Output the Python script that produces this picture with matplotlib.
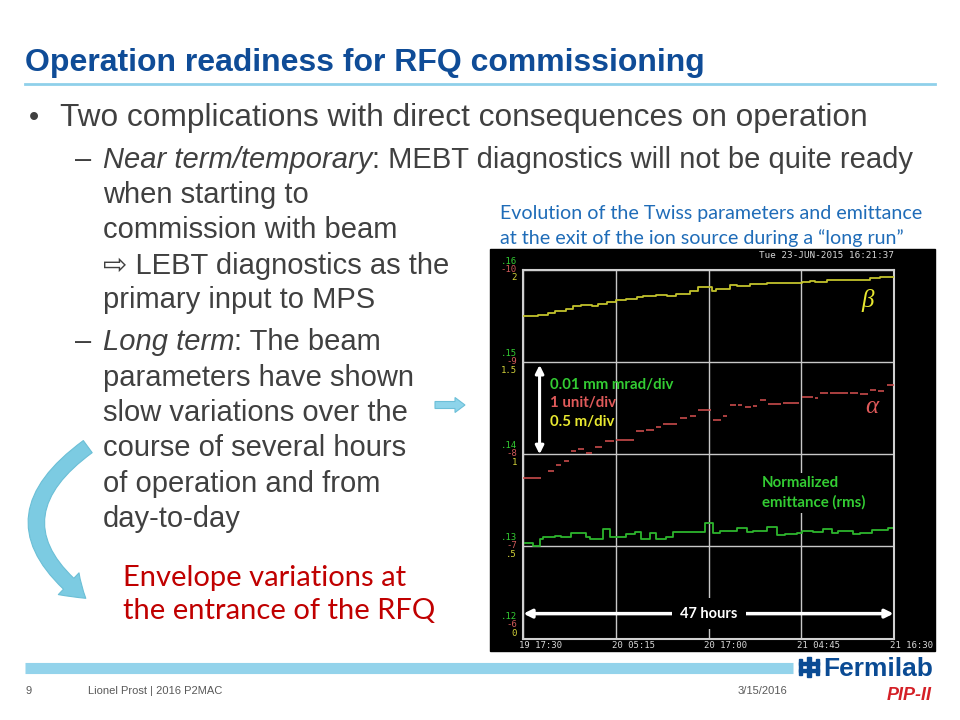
import matplotlib
matplotlib.use("Agg")
import matplotlib.pyplot as plt
from matplotlib.patches import Rectangle, FancyArrowPatch, FancyArrow

# time axis: hours after 19-Jun 17:30 (47 hours shown)
time_ticks = [0, 11.75, 23.5, 35.25, 47]
time_labels = ["19 17:30", "20 05:15", "20 17:00", "21 04:45", "21 16:30"]

# three stacked scales on the scope display
emit_ticks = [0.12, 0.13, 0.14, 0.15, 0.16]
emit_labels = [".12", ".13", ".14", ".15", ".16"]
alpha_ticks = [-6, -7, -8, -9, -10]
alpha_labels = ["-6", "-7", "-8", "-9", "-10"]
beta_ticks = [0, 0.5, 1, 1.5, 2]
beta_labels = ["0", ".5", "1", "1.5", "2"]

# beta (m), step trace
beta_t = [0, 1.9, 3.17, 4.0, 5.5, 6.3, 7.4, 8.7, 9.5, 10.6, 11.8, 13.1, 14.4, 15.2,
          16.9, 18.2, 19.4, 21.1, 22.2, 23.9, 24.5, 26.2, 27.1, 28.7, 30.9, 33.0,
          35.3, 36.3, 37.0, 38.5, 39.7, 41.8, 44.0, 45.2]
beta_v = [1.748, 1.757, 1.764, 1.775, 1.788, 1.803, 1.812, 1.806, 1.817, 1.826,
          1.835, 1.844, 1.851, 1.860, 1.866, 1.857, 1.871, 1.884, 1.906, 1.888,
          1.899, 1.917, 1.911, 1.924, 1.929, 1.931, 1.935, 1.938, 1.935, 1.944,
          1.947, 1.946, 1.957, 1.960]

# alpha, drawn as short dashes
alpha_t = [0, 3.17, 4.23, 5.16, 6.13, 6.97, 8.03, 9.09, 10.36, 11.83, 14.37, 15.64,
           16.9, 17.75, 19.87, 21.13, 22.19, 24.09, 25.36, 26.2, 27.26, 28.1, 29.16,
           30.0, 31.07, 32.97, 35.29, 36.98, 37.62, 38.88, 41.42, 42.69, 43.96,
           45.01, 46.07]
alpha_v = [-7.74, -7.82, -7.88, -7.93, -8.03, -8.06, -8.01, -8.08, -8.14, -8.16,
           -8.25, -8.26, -8.30, -8.33, -8.39, -8.42, -8.48, -8.37, -8.41, -8.53,
           -8.54, -8.51, -8.52, -8.59, -8.55, -8.56, -8.62, -8.61, -8.67, -8.67,
           -8.66, -8.65, -8.70, -8.69, -8.75]

# normalized rms emittance (mm mrad), step trace
emit_t = [0, 1.27, 2.11, 2.54, 4.02, 4.86, 6.13, 8.03, 8.45, 10.14, 11.07, 13.10,
          14.16, 15.0, 16.06, 16.91, 18.17, 19.02, 20.29, 23.03, 24.01, 24.94, 27.05,
          28.32, 29.16, 30.85, 32.12, 33.18, 34.66, 35.29, 36.77, 38.04, 39.10,
          39.94, 41.84, 42.69, 44.17, 46.28]
emit_v = [0.1304, 0.1300, 0.1308, 0.1310, 0.1311, 0.1310, 0.1315, 0.1310, 0.1308,
          0.1319, 0.1310, 0.1313, 0.1316, 0.1308, 0.1314, 0.1308, 0.1310, 0.1316,
          0.1316, 0.1325, 0.1314, 0.1317, 0.1320, 0.1316, 0.1317, 0.1321, 0.1312,
          0.1313, 0.1315, 0.1317, 0.1316, 0.1319, 0.1314, 0.1317, 0.1313, 0.1315,
          0.1318, 0.1320]

SANS = ["Liberation Sans", "DejaVu Sans"]
GRAY = "#404040"
BLUE = "#0f4c97"
SUB = 21

fig = plt.figure(figsize=(9.6, 7.2), dpi=100)

# slide layer in pixel coordinates
bg = fig.add_axes([0, 0, 1, 1])
bg.set_xlim(0, 960)
bg.set_ylim(720, 0)
bg.axis("off")

bg.text(25, 71, "Operation readiness for RFQ commissioning", family=SANS,
        fontsize=23, weight="bold", color=BLUE, va="baseline")
bg.plot([25, 935], [84, 84], color="#8fd0ea", lw=2)

bg.text(29, 126, "\u2022", family=SANS, fontsize=21, color=GRAY, va="baseline")
bg.text(60, 126, "Two complications with direct consequences on operation",
        family=SANS, fontsize=22.8, color=GRAY, va="baseline")


def sub_line(y, text, italic=None, dash=False):
    if dash:
        bg.text(75, y, "\u2013", family=SANS, fontsize=SUB, color=GRAY, va="baseline")
    if italic:
        t = bg.text(103, y, italic, family=SANS, fontsize=SUB, style="italic",
                    color=GRAY, va="baseline")
        bg.annotate(text, xy=(1, 0), xycoords=t, va="bottom", ha="left",
                    family=SANS, fontsize=SUB, color=GRAY)
    else:
        bg.text(103, y, text, family=SANS, fontsize=SUB, color=GRAY, va="baseline")


sub_line(168, ": MEBT diagnostics will not be quite ready", "Near term/temporary", True)
sub_line(203, "when starting to")
sub_line(238, "commission with beam")
sub_line(274, "\u21e8 LEBT diagnostics as the")
sub_line(308, "primary input to MPS")
sub_line(350, ": The beam", "Long term", True)
sub_line(386, "parameters have shown")
sub_line(421, "slow variations over the")
sub_line(456, "course of several hours")
sub_line(492, "of operation and from")
sub_line(527, "day-to-day")

bg.text(123, 586, "Envelope variations at", family="Lato", fontsize=21,
        color="#c00000", va="baseline")
bg.text(123, 619, "the entrance of the RFQ", family="Lato", fontsize=21,
        color="#c00000", va="baseline")

bg.text(500, 219, "Evolution of the Twiss parameters and emittance", family="Lato",
        fontsize=14.1, color="#1f6cb8", va="baseline")
bg.text(500, 244, "at the exit of the ion source during a \u201clong run\u201d",
        family="Lato", fontsize=14.1, color="#1f6cb8", va="baseline")

# arrows on the slide
bg.add_patch(FancyArrow(435, 405, 30, 0, width=7, head_width=15, head_length=10,
                        length_includes_head=True, fc="#8dd4ea", ec="#6cbfd8", lw=0.8))
bg.add_patch(FancyArrowPatch((90, 445), (88, 600), connectionstyle="arc3,rad=0.68",
                             arrowstyle="simple,head_width=2.4,head_length=1.8,tail_width=1.2",
                             mutation_scale=9, fc="#7ccbe2", ec="#6bbfd6", lw=0.8))

# black scope panel
bg.add_patch(Rectangle((490, 249), 445, 402, color="black", zorder=0))

# footer
bg.plot([25, 793], [668, 668], color="#93d3eb", lw=8, solid_capstyle="butt")
bg.text(25, 694, "9", family=SANS, fontsize=8, color="#595959", va="baseline")
bg.text(88, 694, "Lionel Prost | 2016 P2MAC", family=SANS, fontsize=8,
        color="#595959", va="baseline")
bg.text(787, 694, "3/15/2016", family=SANS, fontsize=8, color="#595959",
        va="baseline", ha="right")

# Fermilab logo (approximate)
bg.add_patch(Rectangle((807, 657), 4, 20, color="#0a4b94"))
bg.add_patch(Rectangle((799, 662), 20, 3, color="#0a4b94"))
bg.add_patch(Rectangle((799, 669), 20, 3, color="#0a4b94"))
bg.add_patch(Rectangle((799, 659), 3, 16, color="#0a4b94"))
bg.add_patch(Rectangle((816, 659), 3, 16, color="#0a4b94"))
bg.text(823, 676, "Fermilab", family=SANS, fontsize=19, weight="bold",
        color="#0a4b94", va="baseline")
bg.text(887, 700, "PIP-II", family=SANS, fontsize=13, weight="bold",
        style="italic", color="#d42027", va="baseline")

# scope chart
L, R, T, B = 523, 894, 270, 638.5
ax = fig.add_axes([L / 960, (720 - B) / 720, (R - L) / 960, (B - T) / 720])
ax.set_facecolor("black")
ax.set_xlim(0, 47)
ax.set_ylim(0.12, 0.16)
ax.set_xticks(time_ticks)
ax.set_yticks(emit_ticks)
ax.grid(True, color="#c8c8c8", lw=1)
ax.tick_params(length=0, labelleft=False, labelbottom=False)
for s in ax.spines.values():
    s.set_color("#d0d0d0")
    s.set_linewidth(1.5)

ax_a = ax.twinx()
ax_a.set_ylim(-6, -10)
ax_a.axis("off")
ax_b = ax.twinx()
ax_b.set_ylim(0, 2)
ax_b.axis("off")

ax.step(emit_t + [47], emit_v + [emit_v[-1]], where="post", color="#2db52d", lw=1.3)
ax_b.step(beta_t + [47], beta_v + [beta_v[-1]], where="post", color="#c2c22c", lw=1.3)
ends = [min(n - 0.3, t + 2.3) for t, n in zip(alpha_t, alpha_t[1:] + [47.3])]
ax_a.hlines(alpha_v, alpha_t, ends, color="#c84b4b", lw=1.2)

MONO = "DejaVu Sans Mono"
for i in range(5):
    lift = 13 if i == 0 else 0
    for axis, ticks, labels, dy, col in [
        (ax, emit_ticks, emit_labels, 9, "#33cc33"),
        (ax_a, alpha_ticks, alpha_labels, 1, "#d05a5a"),
        (ax_b, beta_ticks, beta_labels, -8, "#d4d43a"),
    ]:
        axis.annotate(labels[i], xy=(0, ticks[i]), xycoords=axis.get_yaxis_transform(),
                      xytext=(-6, dy + lift), textcoords="offset pixels", ha="right",
                      va="center", family=MONO, fontsize=6.5, color=col)

for t, lab in zip(time_ticks, time_labels):
    ax.annotate(lab, xy=(t, 0), xycoords=ax.get_xaxis_transform(), xytext=(-4, -7),
                textcoords="offset pixels", ha="left", va="center", family=MONO,
                fontsize=6.5, color="#d8d8d8", annotation_clip=False)
ax.annotate("Tue 23-JUN-2015 16:21:37", xy=(1, 1), xycoords="axes fraction",
            xytext=(0, 15), textcoords="offset pixels", ha="right", va="center",
            family=MONO, fontsize=6.7, color="#d8d8d8")

# scale annotations
ax_a.annotate("", xy=(2.1, -8), xytext=(2.1, -9),
              arrowprops=dict(arrowstyle="<|-|>", color="white", lw=2.2,
                              mutation_scale=12, shrinkA=2, shrinkB=0))
ax.text(0.073, 0.688, "0.01 mm mrad/div", transform=ax.transAxes, family="Lato",
        weight="bold", fontsize=10.8, color="#33cc33", va="center")
ax.text(0.073, 0.639, "1 unit/div", transform=ax.transAxes, family="Lato",
        weight="bold", fontsize=10.8, color="#e05a5a", va="center")
ax.text(0.073, 0.587, "0.5 m/div", transform=ax.transAxes, family="Lato",
        weight="bold", fontsize=10.8, color="#e8e830", va="center")
ax.text(0.644, 0.395, "Normalized\nemittance (rms)", transform=ax.transAxes,
        family="Lato", weight="bold", fontsize=10.8, color="#33cc33", va="center",
        linespacing=1.45, bbox=dict(fc="black", ec="none", pad=2))
ax.text(0.93, 0.916, "\u03b2", transform=ax.transAxes, family="Liberation Serif",
        style="italic", fontsize=18, color="#e8e830", ha="center", va="center")
ax.text(0.941, 0.628, "\u03b1", transform=ax.transAxes, family="Liberation Serif",
        style="italic", fontsize=18, color="#e05a5a", ha="center", va="center")

ax.annotate("", xy=(0.05, 0.1227), xytext=(46.95, 0.1227),
            arrowprops=dict(arrowstyle="<|-|>", color="white", lw=2.5,
                            mutation_scale=12, shrinkA=0, shrinkB=0))
ax.text(23.5, 0.1227, "47 hours", family="Lato", weight="bold", fontsize=10.5,
        color="white", ha="center", va="center",
        bbox=dict(fc="black", ec="none", pad=6))

fig.savefig("out.png", dpi=100)
